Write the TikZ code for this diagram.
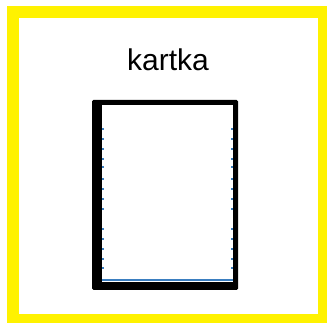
\documentclass[tikz,border=0pt]{standalone}
\usepackage{fontspec}
\setmainfont{Liberation Sans}
\definecolor{tickblue}{HTML}{3A7EC0}
\tikzset{tickmark/.style={tickblue,line width=1.2pt}}
\begin{document}
\begin{tikzpicture}[x=1pt,y=-1pt]
\useasboundingbox (0,0) rectangle (327,323);
\fill[white] (0,0) rectangle (327,323);
% yellow frame
\fill[yellow] (7,6) rectangle (327,323);
\fill[white] (19,18) rectangle (318,314);
% title
\node[font=\fontsize{30}{36}\selectfont, anchor=base, inner sep=0pt] (title) at (168,71) {kartka};
% card
\fill[black, rounded corners=1.5pt] (92,100) rectangle (238,290);
\fill[white] (102,105) rectangle (233,282);
\draw[tickblue, line width=1.6pt] (102,280) -- (233,280);
\foreach \yy in {129,139,149,159,167,179,189,199,209,229,239,249,259,268} {
  \draw[tickmark] (102,\yy) -- (104,\yy);
  \draw[tickmark] (231,\yy) -- (233,\yy);
}
\end{tikzpicture}
\end{document}
